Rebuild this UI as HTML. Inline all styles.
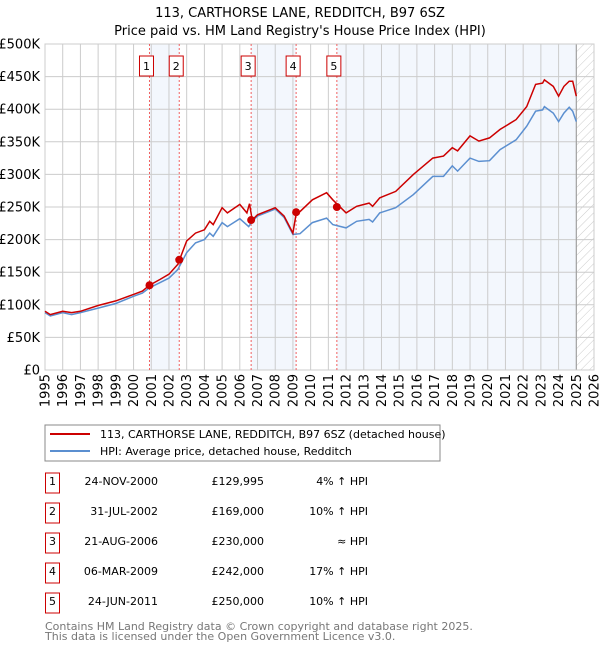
<!DOCTYPE html>
<html><head><meta charset="utf-8"><style>
body{margin:0;background:#fff;font-family:"DejaVu Sans","Liberation Sans",sans-serif;}
svg text{font-family:"DejaVu Sans","Liberation Sans",sans-serif;}
</style></head><body>
<svg id="c" width="600" height="650" xmlns="http://www.w3.org/2000/svg">
<defs><pattern id="hatch" width="6" height="6" patternUnits="userSpaceOnUse" patternTransform="rotate(45)"><line x1="0" y1="0" x2="0" y2="6" stroke="#ccc" stroke-width="1"/></pattern></defs>
<text x="300" y="17" text-anchor="middle" font-size="13">113, CARTHORSE LANE, REDDITCH, B97 6SZ</text>
<text x="300" y="35" text-anchor="middle" font-size="13">Price paid vs. HM Land Registry's House Price Index (HPI)</text>
<g id="plot"></g>
<rect x="45" y="425" width="395" height="36" fill="#fff" stroke="#888"/>
<line x1="50" y1="434" x2="90" y2="434" stroke="#cc0000" stroke-width="2"/>
<text x="100" y="438" font-size="11">113, CARTHORSE LANE, REDDITCH, B97 6SZ (detached house)</text>
<line x1="50" y1="451" x2="90" y2="451" stroke="#5b8fd0" stroke-width="2"/>
<text x="100" y="455" font-size="11">HPI: Average price, detached house, Redditch</text>
<g id="table"></g>
<text x="45" y="630" font-size="11" fill="#777">Contains HM Land Registry data © Crown copyright and database right 2025.</text>
<text x="45" y="640" font-size="11" fill="#777">This data is licensed under the Open Government Licence v3.0.</text>
</svg>
<script>
const yTicks=[0,50,100,150,200,250,300,350,400,450,500];
const yTickLabels=["£0","£50K","£100K","£150K","£200K","£250K","£300K","£350K","£400K","£450K","£500K"];
const xYears=[1995,1996,1997,1998,1999,2000,2001,2002,2003,2004,2005,2006,2007,2008,2009,2010,2011,2012,2013,2014,2015,2016,2017,2018,2019,2020,2021,2022,2023,2024,2025,2026];
const hpiDates=[1995,1995.3,1996,1996.5,1997,1998,1999,2000,2000.5,2000.9,2001.5,2002,2002.5,2003,2003.5,2004,2004.3,2004.5,2005,2005.3,2006,2006.5,2006.7,2007,2008,2008.5,2009,2009.4,2010.1,2010.9,2011.25,2012,2012.6,2013.3,2013.5,2013.9,2014.8,2015.8,2016.9,2017.5,2018,2018.3,2019,2019.5,2020.1,2020.7,2021.6,2022.2,2022.7,2023.1,2023.2,2023.7,2024,2024.3,2024.6,2024.8,2025];
const hpiValues=[88,83,88,85,88,95,102,113,118,126,134,141,154,180,195,200,210,205,226,220,232,220,228,236,247,234,208,209,226,233,223,218,228,231,227,241,249,269,297,297,313,305,325,320,321,338,353,374,397,399,404,394,381,394,403,397,381];
const priceDates=[1995,1995.3,1996,1996.5,1997,1998,1999,2000,2000.5,2000.9,2001.5,2002,2002.5,2003,2003.5,2004,2004.3,2004.5,2005,2005.3,2006,2006.4,2006.55,2006.7,2007,2008,2008.5,2009,2009.2,2009.4,2010.1,2010.9,2011.25,2012,2012.6,2013.3,2013.5,2013.9,2014.8,2015.8,2016.9,2017.5,2018,2018.3,2019,2019.5,2020.1,2020.7,2021.6,2022.2,2022.7,2023.1,2023.2,2023.7,2024,2024.3,2024.6,2024.8,2025];
const priceValues=[90,85,90,88,90,99,106,116,121,130,139,147,162,198,210,215,228,223,249,241,254,241,255,230,238,249,236,210,243,243,261,272,261,241,251,256,251,264,274,300,325,328,341,336,359,351,356,369,384,404,438,440,445,435,420,435,443,443,420];
const saleDates=[2000.9,2002.58,2006.64,2009.18,2011.48];
const saleValues=[129.995,169,230,242,250];
const saleLabels=["24-NOV-2000","31-JUL-2002","21-AUG-2006","06-MAR-2009","24-JUN-2011"];
const salePrices=["£129,995","£169,000","£230,000","£242,000","£250,000"];
const saleHpi=["4% ↑ HPI","10% ↑ HPI","≈ HPI","17% ↑ HPI","10% ↑ HPI"];
const NS="http://www.w3.org/2000/svg";
const X0=45,X1=594,Y0=370,Y1=44;
const xs=t=>X0+(t-1995)*(X1-X0)/31;
const ys=v=>Y0-v*(Y0-Y1)/500;
const plot=document.getElementById('plot');
function mk(tag,attrs,parent){const e=document.createElementNS(NS,tag);for(const k in attrs)e.setAttribute(k,attrs[k]);(parent||plot).appendChild(e);return e;}
let e;
const spans=[[0,1],[2,3],[4,5]];
spans.forEach((s,i)=>{const a=xs(saleDates[s[0]]);const b=s[1]<5?xs(saleDates[s[1]]):xs(2025.0);
e=mk('rect',{x:a,y:Y1,width:b-a,height:Y0-Y1,fill:'#eef3fc',opacity:0.7});

});
yTicks.forEach((v,i)=>{e=mk('line',{x1:X0,x2:X1,y1:ys(v),y2:ys(v),stroke:'#ccc','stroke-width':1});


e=mk('text',{x:40,y:ys(v)+4.5,'text-anchor':'end','font-size':13});e.textContent=yTickLabels[i];

});
xYears.forEach(y=>{e=mk('line',{x1:xs(y),x2:xs(y),y1:Y1,y2:Y0,stroke:'#ccc','stroke-width':1});


e=mk('text',{x:0,y:0,'font-size':13,'text-anchor':'end',transform:`translate(${xs(y)+4.5},374) rotate(-90)`});e.textContent=y;

});
e=mk('rect',{x:xs(2025.0),y:Y1,width:X1-xs(2025.0),height:Y0-Y1,fill:'url(#hatch)'});


e=mk('line',{x1:xs(2025.0),x2:xs(2025.0),y1:Y1,y2:Y0,stroke:'#999','stroke-width':1});


e=mk('rect',{x:X0,y:Y1,width:X1-X0,height:Y0-Y1,fill:'none',stroke:'#ccc'});


saleDates.forEach((d,i)=>{const x=xs(d);
e=mk('line',{x1:x,x2:x,y1:Y1,y2:Y0,stroke:'#f06060','stroke-width':1,'stroke-dasharray':'2,2'});


e=mk('rect',{x:x-10,y:56,width:14,height:20,fill:'#fff',stroke:'#cc0000'});


e=mk('text',{x:x-3,y:70,'text-anchor':'middle','font-size':11});e.textContent=i+1;

});
const pts=(d,v)=>d.map((t,i)=>xs(t).toFixed(1)+','+ys(v[i]).toFixed(1)).join(' ');
e=mk('polyline',{points:pts(hpiDates,hpiValues),fill:'none',stroke:'#5b8fd0','stroke-width':1.5});


e=mk('polyline',{points:pts(priceDates,priceValues),fill:'none',stroke:'#cc0000','stroke-width':1.5});


saleDates.forEach((d,i)=>{e=mk('circle',{cx:xs(d),cy:ys(saleValues[i]),r:4,fill:'#cc0000'});

});
const tbl=document.getElementById('table');
saleDates.forEach((d,i)=>{const cy=483+i*30;
e=mk('rect',{x:45.5,y:cy-10,width:14,height:20,fill:'#fff',stroke:'#cc0000'},tbl);


e=mk('text',{x:52.5,y:cy+2,'text-anchor':'middle','font-size':11},tbl);e.textContent=i+1;


e=mk('text',{x:158,y:cy+2,'text-anchor':'end','font-size':11},tbl);e.textContent=saleLabels[i];


e=mk('text',{x:264,y:cy+2,'text-anchor':'end','font-size':11},tbl);e.textContent=salePrices[i];


e=mk('text',{x:368,y:cy+2,'text-anchor':'end','font-size':11},tbl);e.textContent=saleHpi[i];

});
</script>
</body></html>
